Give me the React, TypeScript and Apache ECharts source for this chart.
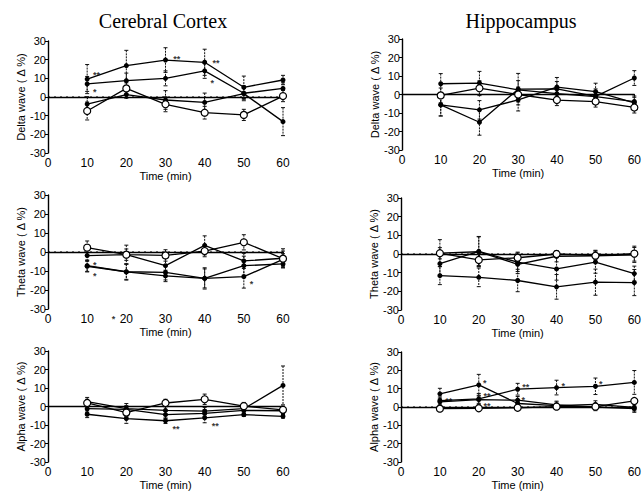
import React, { useEffect, useRef } from "react";
import * as echarts from "echarts";

// ---------- DATA ----------
const times = [10, 20, 30, 40, 50, 60];
const xTicks = [0, 10, 20, 30, 40, 50, 60];
const yTicks = [-30, -20, -10, 0, 10, 20, 30];
const baseline = 0;
const regionTitles = ["Cerebral Cortex", "Hippocampus"];
const waveNames = ["Delta wave ( Δ %)", "Theta wave ( Δ %)", "Alpha wave ( Δ %)"];
const xName = "Time (min)";

// Cerebral cortex – delta
const ctxDelta1 = [9.6, 16.8, 19.8, 18.6, 5.2, 9.1];
const ctxDelta1Err = [7.8, 8.2, 6.6, 7, 6, 2.5];
const ctxDelta2 = [7, 8.8, 10, 14, 2, 4.6];
const ctxDelta2Err = [4, 4, 4, 4, 4, 3];
const ctxDelta3 = [-3.8, 1.3, -1.6, -2.9, 1.8, -13.2];
const ctxDelta3Err = [4, 2, 5, 5, 3, 7.5];
const ctxDelta4Open = [-7.5, 4.6, -3.9, -8.4, -9.6, 0.5];
const ctxDelta4Err = [4.8, 3, 4, 3.4, 3, 3];
const ctxDeltaNotes: [number, number, string][] = [
  [12, 13.4, "**"], [12, 4.3, "*"], [32.5, 22, "**"], [42.5, 19.8, "**"], [42, 9, "*"],
];

// Hippocampus – delta
const hipDelta1 = [5.8, 6.2, 2.5, 0.5, -1.1, -3.8];
const hipDelta1Err = [5.5, 6.3, 5, 4, 3, 3];
const hipDelta2Open = [-0.5, 3.4, 0, -3, -3.8, -7];
const hipDelta2Err = [4, 4, 4, 3, 3, 3];
const hipDelta3 = [-5.6, -8.3, -2.9, 4, 1.5, -4.5];
const hipDelta3Err = [6, 5, 6, 5.2, 4.6, 3];
const hipDelta4 = [-5.6, -15, 2.9, 3, -1, 8.9];
const hipDelta4Err = [6, 7, 8.5, 4, 4, 4];
const hipDeltaNotes: [number, number, string][] = [];

// Cerebral cortex – theta
const ctxTheta1Open = [2.3, -1.4, -1.8, 0.5, 5.1, -3.5];
const ctxTheta1Err = [3.5, 3, 3, 3, 4, 4];
const ctxTheta2 = [-1.9, -1.4, -7.2, 3.5, -4.7, -3.3];
const ctxTheta2Err = [3, 5, 4, 5, 4, 5];
const ctxTheta3 = [-7.2, -10.4, -10.7, -13.9, -7.2, -6.3];
const ctxTheta3Err = [3, 4, 4, 5, 5, 2];
const ctxTheta4 = [-7.5, -10.5, -12.6, -13.9, -13, -3.9];
const ctxTheta4Err = [3, 4.3, 3, 5.6, 6, 3];
const ctxThetaNotes: [number, number, string][] = [
  [12, -5.1, "*"], [12, -11.2, "*"], [52, -15.3, "*"], [16.8, -33.5, "*"],
];

// Hippocampus – theta
const hipTheta1 = [0.5, 1.2, -5.5, -1.2, -1, -0.5];
const hipTheta1Err = [7.2, 8, 5, 3, 3, 4];
const hipTheta2Open = [0.4, -3.2, -2, 0, -0.9, 0.2];
const hipTheta2Err = [3, 3, 3, 1.6, 2, 4];
const hipTheta3 = [-5.2, 1.4, -4.4, -8, -4.3, -10.5];
const hipTheta3Err = [6, 8, 5, 6, 6, 4];
const hipTheta4 = [-11.6, -12.5, -14.2, -17.6, -15.1, -15.3];
const hipTheta4Err = [4.8, 5, 6, 6.6, 7, 7];
const hipThetaNotes: [number, number, string][] = [];

// Cerebral cortex – alpha
const ctxAlpha1Open = [1.9, -3.3, 1.9, 3.9, 0.2, -1.8];
const ctxAlpha1Err = [2, 2, 2, 2.8, 2, 2];
const ctxAlpha2 = [2.6, -1.2, -2.1, -2.5, -1.2, 11.4];
const ctxAlpha2Err = [2.3, 2.8, 2, 2, 2.5, 10.5];
const ctxAlpha3 = [-1.2, -1.5, -4.4, -3.7, -2.1, -2.3];
const ctxAlpha3Err = [2, 2, 2, 2, 2, 2];
const ctxAlpha4 = [-4.2, -6.5, -7.7, -6.1, -4.4, -5.3];
const ctxAlpha4Err = [1.8, 2.6, 1.5, 2.7, 1, 1];
const ctxAlphaNotes: [number, number, string][] = [
  [32.3, -10.7, "**"], [42.3, -9.1, "**"],
];

// Hippocampus – alpha
const hipAlpha1 = [7.2, 12.1, 1.9, 0.7, 1.4, -0.2];
const hipAlpha1Err = [3, 5.7, 2, 2, 2, 2];
const hipAlpha2 = [3.5, 4.4, 9.7, 10.6, 11.3, 13.4];
const hipAlpha2Err = [2, 3, 3.2, 4, 4.5, 6.5];
const hipAlpha3 = [2.8, 4, 3.7, 1.2, 0, -0.9];
const hipAlpha3Err = [2, 2, 2, 2, 2, 2];
const hipAlpha4Open = [-0.9, -0.7, -0.4, 0.2, 0.2, 3.3];
const hipAlpha4Err = [1, 1, 1, 1, 1, 1];
const hipAlphaNotes: [number, number, string][] = [
  [11.9, 5.1, "**"], [21.6, 14.6, "*"], [21.7, 7.4, "**"], [21.7, 2.4, "**"],
  [31.7, 12.5, "**"], [31.5, 5.5, "*"], [41.8, 13, "*"], [51.4, 14.3, "*"],
];

// ---------- LAYOUT ----------
type S = { v: number[]; e: number[]; open?: boolean };
type Panel = { grid: { left: number; top: number; width: number; height: number }; yName: string; series: S[]; notes: [number, number, string][] };

const panels: Panel[] = [
  { grid: { left: 48, top: 41, width: 235, height: 112 }, yName: waveNames[0], notes: ctxDeltaNotes,
    series: [{ v: ctxDelta1, e: ctxDelta1Err }, { v: ctxDelta2, e: ctxDelta2Err }, { v: ctxDelta3, e: ctxDelta3Err }, { v: ctxDelta4Open, e: ctxDelta4Err, open: true }] },
  { grid: { left: 402, top: 39, width: 237, height: 111 }, yName: waveNames[0], notes: hipDeltaNotes,
    series: [{ v: hipDelta1, e: hipDelta1Err }, { v: hipDelta3, e: hipDelta3Err }, { v: hipDelta4, e: hipDelta4Err }, { v: hipDelta2Open, e: hipDelta2Err, open: true }] },
  { grid: { left: 48, top: 195, width: 235, height: 114 }, yName: waveNames[1], notes: ctxThetaNotes,
    series: [{ v: ctxTheta2, e: ctxTheta2Err }, { v: ctxTheta3, e: ctxTheta3Err }, { v: ctxTheta4, e: ctxTheta4Err }, { v: ctxTheta1Open, e: ctxTheta1Err, open: true }] },
  { grid: { left: 401, top: 198, width: 238, height: 112 }, yName: waveNames[1], notes: hipThetaNotes,
    series: [{ v: hipTheta1, e: hipTheta1Err }, { v: hipTheta3, e: hipTheta3Err }, { v: hipTheta4, e: hipTheta4Err }, { v: hipTheta2Open, e: hipTheta2Err, open: true }] },
  { grid: { left: 48, top: 351, width: 235, height: 114 }, yName: waveNames[2], notes: ctxAlphaNotes,
    series: [{ v: ctxAlpha2, e: ctxAlpha2Err }, { v: ctxAlpha3, e: ctxAlpha3Err }, { v: ctxAlpha4, e: ctxAlpha4Err }, { v: ctxAlpha1Open, e: ctxAlpha1Err, open: true }] },
  { grid: { left: 401, top: 352, width: 238, height: 113 }, yName: waveNames[2], notes: hipAlphaNotes,
    series: [{ v: hipAlpha1, e: hipAlpha1Err }, { v: hipAlpha2, e: hipAlpha2Err }, { v: hipAlpha3, e: hipAlpha3Err }, { v: hipAlpha4Open, e: hipAlpha4Err, open: true }] },
];

const SANS = "Liberation Sans";

function buildOption() {
  const grids: any[] = [];
  const xAxes: any[] = [];
  const yAxes: any[] = [];
  const series: any[] = [];
  panels.forEach((p, i) => {
    grids.push({ ...p.grid, containLabel: false });
    xAxes.push({
      type: "value", gridIndex: i, min: xTicks[0], max: xTicks[xTicks.length - 1], interval: 10,
      name: xName, nameLocation: "middle", nameGap: 17,
      nameTextStyle: { color: "#000", fontSize: 11, fontFamily: SANS },
      axisLine: { show: true, lineStyle: { color: "#000", width: 1.4 } },
      axisTick: { show: true, length: 2, lineStyle: { color: "#000" } },
      axisLabel: { color: "#000", fontSize: 12, fontFamily: SANS, margin: 4 },
      splitLine: { show: false },
    });
    yAxes.push({
      type: "value", gridIndex: i, min: yTicks[0], max: yTicks[yTicks.length - 1], interval: 10,
      name: p.yName, nameLocation: "middle", nameGap: 22,
      nameTextStyle: { color: "#000", fontSize: 11, fontFamily: SANS },
      axisLine: { show: true, lineStyle: { color: "#000", width: 1.4 } },
      axisTick: { show: true, length: 3, lineStyle: { color: "#000" } },
      axisLabel: { color: "#000", fontSize: 11, fontFamily: SANS, margin: 2 },
      splitLine: { show: false },
    });
    // dotted zero line
    series.push({
      type: "line", xAxisIndex: i, yAxisIndex: i, z: 2, silent: true, symbol: "none",
      data: [[xTicks[0], baseline], [xTicks[xTicks.length - 1], baseline]],
      lineStyle: { color: "#000", width: 1, type: [2, 4] },
      emphasis: { disabled: true },
    });
    // error bars
    p.series.forEach((s) => {
      series.push({
        type: "custom", xAxisIndex: i, yAxisIndex: i, silent: true, z: 1,
        data: times.map((t, k) => [t, s.v[k] - s.e[k], s.v[k] + s.e[k]]),
        renderItem: (params: any, api: any) => {
          const x = api.value(0);
          const top = api.coord([x, api.value(2)]);
          const bot = api.coord([x, api.value(1)]);
          const c = 2;
          return {
            type: "group",
            children: [
              { type: "line", shape: { x1: top[0], y1: top[1], x2: bot[0], y2: bot[1] }, style: { stroke: "#111", lineWidth: 1, lineDash: [2, 1] } },
              { type: "line", shape: { x1: top[0] - c, y1: top[1], x2: top[0] + c, y2: top[1] }, style: { stroke: "#111", lineWidth: 1 } },
              { type: "line", shape: { x1: bot[0] - c, y1: bot[1], x2: bot[0] + c, y2: bot[1] }, style: { stroke: "#111", lineWidth: 1 } },
            ],
          };
        },
      });
    });
    // lines
    p.series.forEach((s) => {
      series.push({
        type: "line", xAxisIndex: i, yAxisIndex: i, z: s.open ? 4 : 3,
        data: times.map((t, k) => [t, s.v[k]]),
        symbol: "circle", symbolSize: s.open ? 7 : 5,
        showAllSymbol: true,
        lineStyle: { color: "#000", width: 1.3 },
        itemStyle: s.open ? { color: "#fff", borderColor: "#000", borderWidth: 1.2 } : { color: "#000", borderColor: "#000", borderWidth: 0 },
        emphasis: { disabled: true },
      });
    });
    // significance marks
    if (p.notes.length) {
      series.push({
        type: "scatter", xAxisIndex: i, yAxisIndex: i, z: 5, clip: false, silent: true,
        symbolSize: 0,
        data: p.notes.map((n) => ({ value: [n[0], n[1]], name: n[2] })),
        label: {
          show: true, position: "right", distance: 0, formatter: (d: any) => d.name,
          color: "#000", fontSize: 9, fontWeight: "bold", fontFamily: SANS, offset: [-2, 3],
        },
      });
    }
  });
  return {
    animation: false,
    backgroundColor: "#fff",
    grid: grids, xAxis: xAxes, yAxis: yAxes, series,
    graphic: [
      { type: "text", x: 163, y: 21, style: { text: regionTitles[0], font: "20px 'Liberation Serif'", fill: "#000", textAlign: "center", textVerticalAlign: "middle" } },
      { type: "text", x: 521, y: 21, style: { text: regionTitles[1], font: "20px 'Liberation Serif'", fill: "#000", textAlign: "center", textVerticalAlign: "middle" } },
    ],
  };
}

export default function App() {
  const ref = useRef<HTMLDivElement>(null);
  useEffect(() => {
    document.body.style.margin = "0";
    if (!ref.current) return;
    const chart = echarts.init(ref.current, null, { renderer: "svg" });
    chart.setOption(buildOption() as any);
    return () => chart.dispose();
  }, []);
  return <div ref={ref} style={{ width: 644, height: 491 }} />;
}
